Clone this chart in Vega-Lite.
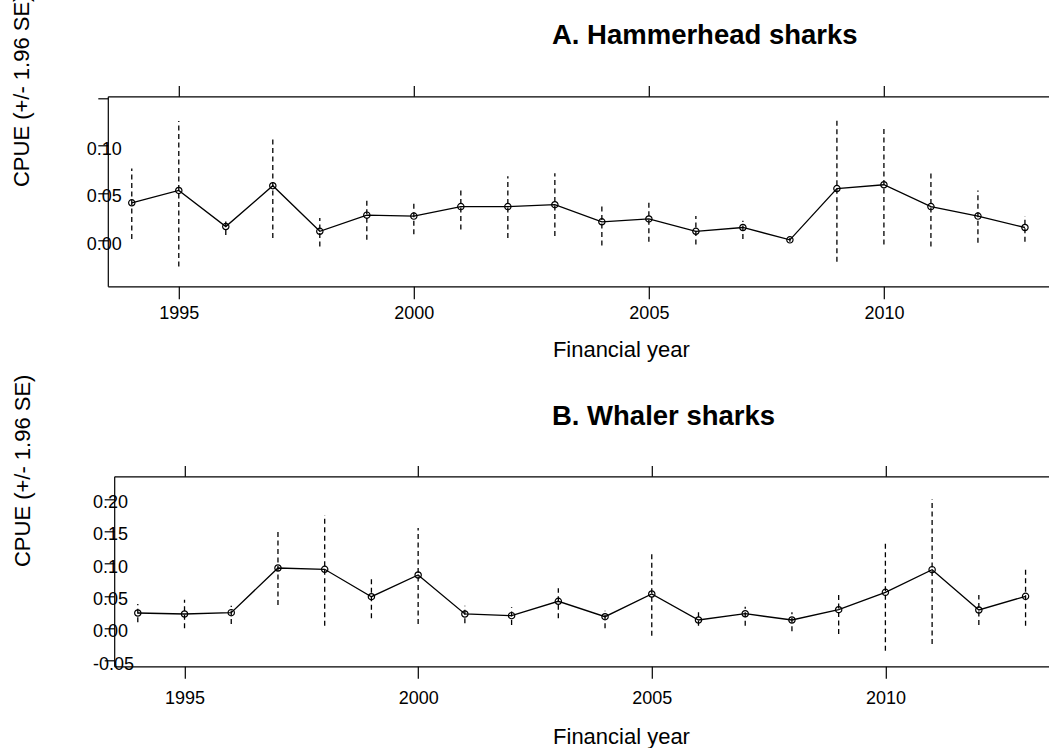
{
  "$schema": "https://vega.github.io/schema/vega-lite/v6.json",
  "background": "white",
  "padding": {"left": 9.8, "top": -6.7, "right": 0, "bottom": 0},
  "spacing": 12,
  "config": {
    "font": "Liberation Sans",
    "view": {"stroke": null},
    "axis": {
      "grid": false,
      "domainColor": "black",
      "tickColor": "black",
      "labelColor": "black",
      "titleColor": "black",
      "domainWidth": 1.2,
      "tickWidth": 1.2,
      "labelFont": "Liberation Sans",
      "titleFont": "Liberation Sans",
      "labelFontSize": 18,
      "titleFontSize": 22,
      "titleFontWeight": "normal",
      "labelOverlap": false
    }
  },
  "datasets": {
    "hammer": [
      {"year": 1994, "cpue": 0.040, "lo": 0.002, "hi": 0.076},
      {"year": 1995, "cpue": 0.053, "lo": -0.027, "hi": 0.126},
      {"year": 1996, "cpue": 0.015, "lo": 0.006, "hi": 0.021},
      {"year": 1997, "cpue": 0.058, "lo": 0.003, "hi": 0.107},
      {"year": 1998, "cpue": 0.010, "lo": -0.006, "hi": 0.024},
      {"year": 1999, "cpue": 0.027, "lo": 0.001, "hi": 0.045},
      {"year": 2000, "cpue": 0.026, "lo": 0.007, "hi": 0.039},
      {"year": 2001, "cpue": 0.036, "lo": 0.012, "hi": 0.056},
      {"year": 2002, "cpue": 0.036, "lo": 0.003, "hi": 0.068},
      {"year": 2003, "cpue": 0.038, "lo": 0.005, "hi": 0.071},
      {"year": 2004, "cpue": 0.020, "lo": -0.005, "hi": 0.039},
      {"year": 2005, "cpue": 0.023, "lo": -0.001, "hi": 0.042},
      {"year": 2006, "cpue": 0.010, "lo": -0.004, "hi": 0.026},
      {"year": 2007, "cpue": 0.014, "lo": 0.002, "hi": 0.021},
      {"year": 2008, "cpue": 0.001, "lo": -0.001, "hi": 0.003},
      {"year": 2009, "cpue": 0.055, "lo": -0.022, "hi": 0.129},
      {"year": 2010, "cpue": 0.059, "lo": -0.004, "hi": 0.121},
      {"year": 2011, "cpue": 0.036, "lo": -0.006, "hi": 0.074},
      {"year": 2012, "cpue": 0.026, "lo": -0.002, "hi": 0.053},
      {"year": 2013, "cpue": 0.014, "lo": -0.001, "hi": 0.026}
    ],
    "whaler": [
      {"year": 1994, "cpue": 0.0238, "lo": 0.0094, "hi": 0.0377},
      {"year": 1995, "cpue": 0.0223, "lo": 0.0002, "hi": 0.0444},
      {"year": 1996, "cpue": 0.0243, "lo": 0.0068, "hi": 0.0351},
      {"year": 1997, "cpue": 0.0934, "lo": 0.0362, "hi": 0.1511},
      {"year": 1998, "cpue": 0.0914, "lo": 0.0042, "hi": 0.1753},
      {"year": 1999, "cpue": 0.0490, "lo": 0.0156, "hi": 0.0806},
      {"year": 2000, "cpue": 0.0826, "lo": 0.0068, "hi": 0.1552},
      {"year": 2001, "cpue": 0.0223, "lo": 0.0079, "hi": 0.0351},
      {"year": 2002, "cpue": 0.0197, "lo": 0.0053, "hi": 0.0326},
      {"year": 2003, "cpue": 0.0419, "lo": 0.0156, "hi": 0.0620},
      {"year": 2004, "cpue": 0.0181, "lo": 0.0002, "hi": 0.0274},
      {"year": 2005, "cpue": 0.0532, "lo": -0.0113, "hi": 0.1176},
      {"year": 2006, "cpue": 0.0130, "lo": 0.0042, "hi": 0.0249},
      {"year": 2007, "cpue": 0.0227, "lo": 0.0042, "hi": 0.0336},
      {"year": 2008, "cpue": 0.0130, "lo": -0.0045, "hi": 0.0249},
      {"year": 2009, "cpue": 0.0289, "lo": -0.0086, "hi": 0.0558},
      {"year": 2010, "cpue": 0.0558, "lo": -0.0344, "hi": 0.1356},
      {"year": 2011, "cpue": 0.0908, "lo": -0.0241, "hi": 0.2001},
      {"year": 2012, "cpue": 0.0285, "lo": 0.0053, "hi": 0.0516},
      {"year": 2013, "cpue": 0.0496, "lo": 0.0042, "hi": 0.0945}
    ]
  },
  "vconcat": [
    {
      "width": 943,
      "height": 190,
      "data": {"name": "hammer"},
      "resolve": {"axis": {"x": "independent"}},
      "layer": [
        {
          "mark": {"type": "rule", "color": "black", "strokeWidth": 1.3, "strokeDash": [5, 3.5]},
          "encoding": {
            "x": {
              "field": "year", "type": "quantitative",
              "scale": {"domain": [1993.49, 2013.55], "nice": false, "zero": false},
              "axis": {
                "orient": "bottom", "values": [1995, 2000, 2005, 2010], "format": "d",
                "tickCount": 20,
                "tickSize": 12.5, "labelPadding": 5.4, "labelFlush": false, "labelOverlap": false,
                "title": "Financial year", "titleX": 513, "titleY": 70.5,
                "titleAlign": "center", "titleBaseline": "alphabetic"
              }
            },
            "y": {
              "field": "lo", "type": "quantitative", "title": "CPUE (+/- 1.96 SE)",
              "scale": {"domain": [-0.0479, 0.1521], "nice": false, "zero": false},
              "axis": {
                "orient": "left", "values": [0, 0.05, 0.1, 0.15], "format": ".2f",
                "tickCount": 20,
                "labelExpr": "datum.value > 0.12 ? '' : datum.label",
                "labelOverlap": false,
                "tickSize": 10, "labelAlign": "left", "labelPadding": 11.5,
                "labelOffset": 3.7, "labelFlush": false, "labelBaseline": "middle",
                "titleX": -79.5, "titleY": -6, "titleAlign": "center",
                "titleBaseline": "alphabetic", "titleAngle": -90
              }
            },
            "y2": {"field": "hi"}
          }
        },
        {
          "mark": {"type": "line", "color": "black", "strokeWidth": 1.3},
          "encoding": {
            "x": {
              "field": "year", "type": "quantitative",
              "axis": {
                "orient": "top", "values": [1995, 2000, 2005, 2010], "labels": false,
                "tickCount": 20,
                "tickSize": 10.7, "title": "A. Hammerhead sharks",
                "titleFontSize": 27.5, "titleFontWeight": "bold",
                "titleX": 443.7, "titleY": -52.4, "titleAlign": "left",
                "titleBaseline": "alphabetic"
              }
            },
            "y": {"field": "cpue", "type": "quantitative", "title": "CPUE (+/- 1.96 SE)"}
          }
        },
        {
          "mark": {"type": "point", "shape": "circle", "filled": false, "color": "black", "size": 40, "strokeWidth": 1.2, "opacity": 1},
          "encoding": {
            "x": {"field": "year", "type": "quantitative", "axis": null},
            "y": {"field": "cpue", "type": "quantitative", "title": "CPUE (+/- 1.96 SE)"}
          }
        }
      ]
    },
    {
      "width": 943,
      "height": 190,
      "data": {"name": "whaler"},
      "resolve": {"axis": {"x": "independent"}},
      "layer": [
        {
          "mark": {"type": "rule", "color": "black", "strokeWidth": 1.3, "strokeDash": [5, 3.5]},
          "encoding": {
            "x": {
              "field": "year", "type": "quantitative",
              "scale": {"domain": [1993.495, 2013.54], "range": [6.4, 943], "nice": false, "zero": false},
              "axis": {
                "orient": "bottom", "values": [1995, 2000, 2005, 2010], "format": "d",
                "tickCount": 20,
                "tickSize": 12, "labelPadding": 10.9, "labelFlush": false, "labelOverlap": false,
                "title": "Financial year", "titleX": 513.2, "titleY": 77.7,
                "titleAlign": "center", "titleBaseline": "alphabetic"
              }
            },
            "y": {
              "field": "lo", "type": "quantitative", "title": "CPUE (+/- 1.96 SE)",
              "scale": {"domain": [-0.0586, 0.2352], "nice": false, "zero": false},
              "axis": {
                "orient": "left", "offset": -6.4,
                "values": [-0.05, 0, 0.05, 0.1, 0.15, 0.2], "format": ".2f",
                "tickCount": 20,
                "labelExpr": "replace(datum.label, '\u2212', '-')",
                "labelOverlap": false,
                "tickSize": 10, "labelAlign": "left", "labelPadding": 11.7,
                "labelOffset": 3.5, "labelFlush": false, "labelBaseline": "middle",
                "titleX": -85, "titleY": -6, "titleAlign": "center",
                "titleBaseline": "alphabetic", "titleAngle": -90
              }
            },
            "y2": {"field": "hi"}
          }
        },
        {
          "mark": {"type": "line", "color": "black", "strokeWidth": 1.3},
          "encoding": {
            "x": {
              "field": "year", "type": "quantitative",
              "axis": {
                "orient": "top", "values": [1995, 2000, 2005, 2010], "labels": false,
                "tickCount": 20,
                "tickSize": 10.7, "title": "B. Whaler sharks",
                "titleFontSize": 27.5, "titleFontWeight": "bold",
                "titleX": 443.7, "titleY": -51.4, "titleAlign": "left",
                "titleBaseline": "alphabetic"
              }
            },
            "y": {"field": "cpue", "type": "quantitative", "title": "CPUE (+/- 1.96 SE)"}
          }
        },
        {
          "mark": {"type": "point", "shape": "circle", "filled": false, "color": "black", "size": 40, "strokeWidth": 1.2, "opacity": 1},
          "encoding": {
            "x": {"field": "year", "type": "quantitative", "axis": null},
            "y": {"field": "cpue", "type": "quantitative", "title": "CPUE (+/- 1.96 SE)"}
          }
        }
      ]
    }
  ]
}
